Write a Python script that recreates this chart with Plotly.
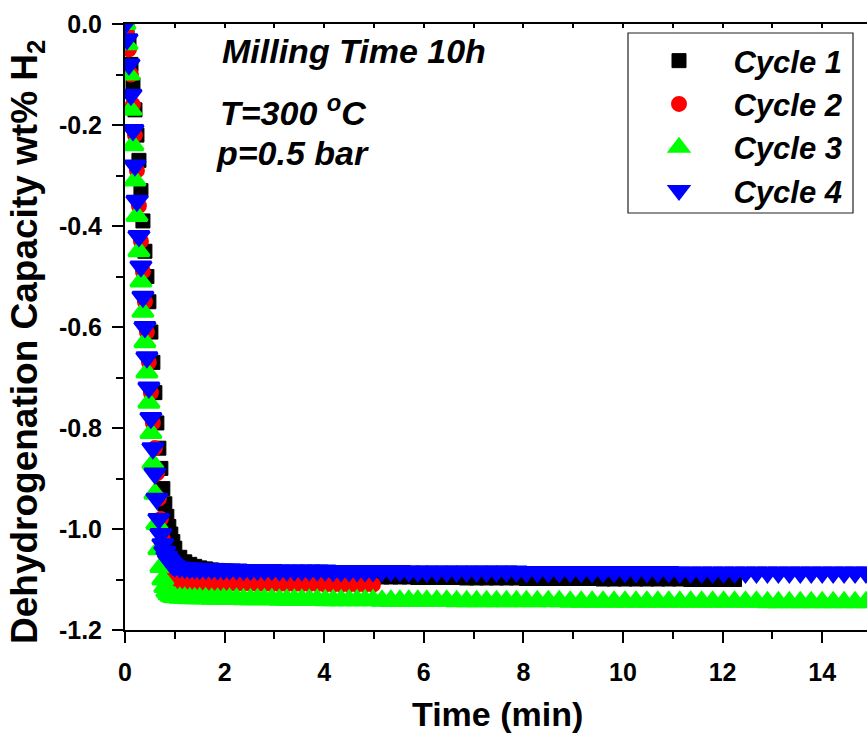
import plotly.graph_objects as go

# ---------------- data ----------------
time_descent = [0.0, 0.04, 0.08, 0.12, 0.16, 0.20, 0.24, 0.28, 0.32, 0.36, 0.40, 0.44, 0.48,
                0.52, 0.56, 0.60, 0.64, 0.68, 0.72, 0.76, 0.80, 0.84, 0.88, 0.92, 0.96, 1.00]

time_plateau = [1.1, 1.2, 1.3, 1.4, 1.5, 1.62, 1.74, 1.86, 1.98, 2.1,
                2.24, 2.38, 2.52, 2.66, 2.8, 2.95, 3.1, 3.25, 3.4, 3.55,
                3.7, 3.86, 4.02, 4.18, 4.34, 4.5, 4.66, 4.82, 4.98, 5.16,
                5.34, 5.52, 5.7, 5.88, 6.06, 6.26, 6.46, 6.66, 6.86, 7.06,
                7.26, 7.46, 7.66, 7.86, 8.06, 8.28, 8.5, 8.72, 8.94, 9.16,
                9.38, 9.6, 9.82, 10.04, 10.26, 10.48, 10.7, 10.92, 11.14, 11.36,
                11.58, 11.8, 12.02, 12.24, 12.46, 12.68, 12.9, 13.12, 13.34, 13.56,
                13.78, 14.0, 14.22, 14.44, 14.66, 14.88, 15.1]

cycle1_descent = [0.0, -0.01, -0.04, -0.08, -0.12, -0.17, -0.22, -0.27, -0.33, -0.39, -0.45, -0.50, -0.55,
                  -0.61, -0.67, -0.73, -0.79, -0.84, -0.88, -0.92, -0.95, -0.975, -0.995, -1.01, -1.025, -1.038]
cycle2_descent = [0.0, -0.02, -0.05, -0.10, -0.16, -0.22, -0.29, -0.36, -0.43, -0.49, -0.55, -0.61, -0.67,
                  -0.73, -0.79, -0.84, -0.89, -0.94, -0.98, -1.02, -1.05, -1.07, -1.085, -1.095, -1.10, -1.103]
cycle3_descent = [0.0, -0.04, -0.10, -0.17, -0.24, -0.31, -0.38, -0.45, -0.51, -0.57, -0.63, -0.69, -0.75,
                  -0.81, -0.87, -0.93, -0.99, -1.04, -1.075, -1.10, -1.115, -1.124, -1.129, -1.132, -1.134, -1.135]
cycle4_descent = [0.0, -0.03, -0.08, -0.14, -0.21, -0.28, -0.35, -0.42, -0.48, -0.54, -0.60, -0.66, -0.72,
                  -0.78, -0.84, -0.89, -0.94, -0.98, -1.01, -1.03, -1.045, -1.055, -1.062, -1.067, -1.071, -1.074]

cycle1_plateau = [-1.056, -1.065, -1.070, -1.074, -1.077, -1.079, -1.081, -1.082, -1.083, -1.084,
                  -1.085, -1.086, -1.087, -1.087, -1.088, -1.089, -1.089, -1.090, -1.090, -1.091,
                  -1.091, -1.092, -1.092, -1.093, -1.093, -1.093, -1.094, -1.094, -1.094, -1.095,
                  -1.095, -1.095, -1.095, -1.096, -1.096, -1.096, -1.096, -1.096, -1.097, -1.097,
                  -1.097, -1.097, -1.097, -1.097, -1.098, -1.098, -1.098, -1.098, -1.098, -1.098,
                  -1.098, -1.099, -1.099, -1.099, -1.099, -1.099, -1.099, -1.099, -1.099, -1.100,
                  -1.100, -1.100, -1.100, -1.100]
cycle2_plateau = [-1.105, -1.106, -1.107, -1.107, -1.107, -1.108, -1.108, -1.108, -1.108, -1.108,
                  -1.108, -1.108, -1.108, -1.109, -1.109, -1.109, -1.109, -1.109, -1.109, -1.109,
                  -1.109, -1.109, -1.110, -1.110, -1.110, -1.110, -1.110, -1.110, -1.110]
cycle3_plateau = [-1.136, -1.136, -1.137, -1.137, -1.137, -1.137, -1.138, -1.138, -1.138, -1.138,
                  -1.138, -1.139, -1.139, -1.139, -1.139, -1.139, -1.140, -1.140, -1.140, -1.140,
                  -1.140, -1.140, -1.141, -1.141, -1.141, -1.141, -1.141, -1.141, -1.141, -1.142,
                  -1.142, -1.142, -1.142, -1.142, -1.142, -1.142, -1.142, -1.143, -1.143, -1.143,
                  -1.143, -1.143, -1.143, -1.143, -1.143, -1.143, -1.143, -1.143, -1.144, -1.144,
                  -1.144, -1.144, -1.144, -1.144, -1.144, -1.144, -1.144, -1.144, -1.144, -1.144,
                  -1.144, -1.144, -1.144, -1.144, -1.144, -1.144, -1.145, -1.145, -1.145, -1.145,
                  -1.145, -1.145, -1.145, -1.145, -1.145, -1.145, -1.145]
cycle4_plateau = [-1.076, -1.077, -1.078, -1.078, -1.079, -1.079, -1.079, -1.080, -1.080, -1.080,
                  -1.080, -1.081, -1.081, -1.081, -1.081, -1.081, -1.082, -1.082, -1.082, -1.082,
                  -1.082, -1.082, -1.082, -1.083, -1.083, -1.083, -1.083, -1.083, -1.083, -1.083,
                  -1.083, -1.083, -1.084, -1.084, -1.084, -1.084, -1.084, -1.084, -1.084, -1.084,
                  -1.084, -1.084, -1.084, -1.084, -1.085, -1.085, -1.085, -1.085, -1.085, -1.085,
                  -1.085, -1.085, -1.085, -1.085, -1.085, -1.085, -1.085, -1.085, -1.086, -1.086,
                  -1.086, -1.086, -1.086, -1.086, -1.086, -1.086, -1.086, -1.086, -1.086, -1.086,
                  -1.086, -1.086, -1.086, -1.086, -1.086, -1.086, -1.086]

series_names = ["Cycle 1", "Cycle 2", "Cycle 3", "Cycle 4"]
y_tick_values = [0.0, -0.2, -0.4, -0.6, -0.8, -1.0, -1.2]
y_tick_labels = ["0.0", "-0.2", "-0.4", "-0.6", "-0.8", "-1.0", "-1.2"]
x_tick_values = [0, 2, 4, 6, 8, 10, 12, 14]
x_tick_labels = ["0", "2", "4", "6", "8", "10", "12", "14"]

# ---------------- figure ----------------
W, H = 867, 733
L, R, T, B = 125, 0, 24, 103
PW, PH = W - L - R, H - T - B


def px(xp):
    return (xp - L) / PW


def py(yp):
    return (H - B - yp) / PH


FONT = "Liberation Sans, Arial, sans-serif"

styles = [
    dict(symbol="square", color="#000000", size=14, lw=1),
    dict(symbol="circle", color="#ff0000", size=13, lw=3),
    dict(symbol="triangle-up", color="#00ff00", size=18, lw=3),
    dict(symbol="triangle-down", color="#0000ff", size=18, lw=3),
]

series = [
    (time_descent + time_plateau[:len(cycle1_plateau)], cycle1_descent + cycle1_plateau),
    (time_descent + time_plateau[:len(cycle2_plateau)], cycle2_descent + cycle2_plateau),
    (time_descent + time_plateau[:len(cycle3_plateau)], cycle3_descent + cycle3_plateau),
    (time_descent + time_plateau[:len(cycle4_plateau)], cycle4_descent + cycle4_plateau),
]

fig = go.Figure()
nbsp = "\u00a0" * 4
for name, (xs, ys), st in zip(series_names, series, styles):
    fig.add_trace(go.Scatter(
        x=xs, y=ys, mode="markers", name=nbsp + name,
        marker=dict(symbol=st["symbol"], color=st["color"], size=st["size"],
                    line=dict(width=st["lw"], color=st["color"])),
    ))

# empty helper trace so that the top (mirror) axis with inside ticks is drawn
fig.add_trace(go.Scatter(x=[], y=[], xaxis="x2", yaxis="y", showlegend=False,
                         hoverinfo="skip"))

axis_common = dict(
    showline=True, linecolor="black", linewidth=2,
    ticks="outside", tickwidth=2, tickcolor="black", ticklen=11,
    showgrid=False, zeroline=False,
    tickfont=dict(family=FONT, size=25, color="black", weight="bold"),
)

fig.update_layout(
    xaxis=dict(
        range=[0, 14.9], tickmode="array", tickvals=x_tick_values, ticktext=x_tick_labels,
        mirror=True, ticklabelstandoff=8,
        minor=dict(ticks="outside", ticklen=7, tickwidth=2, tickcolor="black", dtick=1, tick0=0),
        **axis_common,
    ),
    xaxis2=dict(
        overlaying="x", matches="x", side="top", anchor="y",
        showline=False, showgrid=False, zeroline=False, showticklabels=False,
        ticks="inside", ticklen=4, tickwidth=1.5, tickcolor="black",
        tickmode="linear", tick0=0, dtick=1,
    ),
    yaxis=dict(
        range=[-1.2, 0], tickmode="array", tickvals=y_tick_values, ticktext=y_tick_labels,
        ticklabelstandoff=5,
        minor=dict(ticks="outside", ticklen=7, tickwidth=2, tickcolor="black", dtick=0.1, tick0=0),
        **axis_common,
    ),
)

ann_font = dict(family=FONT, size=34, color="black", weight="bold", style="italic")
annotations = [
    dict(text="Milling Time 10h", x=px(220), y=py(51), xanchor="left", yanchor="middle",
         font=ann_font),
    dict(text="T=300 <sup>o</sup>C", x=px(218), y=py(110), xanchor="left", yanchor="middle",
         font=ann_font),
    dict(text="p=0.5 bar", x=px(214), y=py(153), xanchor="left", yanchor="middle",
         font=ann_font),
    dict(text="Time (min)", x=px(497), y=py(714), xanchor="center", yanchor="middle",
         font=dict(family=FONT, size=34, color="black", weight="bold")),
    dict(text="Dehydrogenation Capacity wt% H<sub>2</sub>", x=px(27), y=py(342),
         xanchor="center", yanchor="middle", textangle=-90,
         font=dict(family=FONT, size=37, color="black", weight="bold")),
]
for a in annotations:
    a.update(xref="paper", yref="paper", showarrow=False)

fig.update_layout(
    width=W, height=H,
    margin=dict(l=L, r=R, t=T, b=B, pad=0),
    paper_bgcolor="white", plot_bgcolor="white",
    annotations=annotations,
    showlegend=True,
    legend=dict(
        x=px(659), y=py(34), xanchor="left", yanchor="top",
        bgcolor="rgba(0,0,0,0)", borderwidth=0,
        font=dict(family=FONT, size=31, color="black", weight="bold", style="italic"),
        itemsizing="trace", tracegroupgap=0,
    ),
    shapes=[dict(type="rect", xref="paper", yref="paper",
                 x0=px(628), x1=px(853), y0=py(213), y1=py(33),
                 line=dict(color="#222222", width=1.2), fillcolor="rgba(0,0,0,0)")],
)

fig.write_html("out.html")
